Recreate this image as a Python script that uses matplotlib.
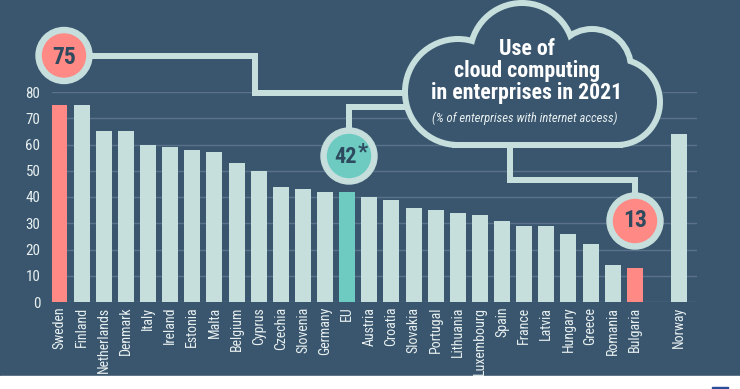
import matplotlib.pyplot as plt
from matplotlib import font_manager as fm
from matplotlib.patches import Circle, Rectangle

# Dados
countries = ['Sweden', 'Finland', 'Netherlands', 'Denmark', 'Italy', 'Ireland', 'Estonia',
             'Malta', 'Belgium', 'Cyprus', 'Czechia', 'Slovenia', 'Germany', 'EU', 'Austria',
             'Croatia', 'Slovakia', 'Portugal', 'Lithuania', 'Luxembourg', 'Spain', 'France',
             'Latvia', 'Hungary', 'Greece', 'Romania', 'Bulgaria', 'Norway']
values = [75, 75, 65, 65, 60, 59, 58, 57, 53, 50, 44, 43, 42, 42, 40, 39, 36, 35, 34, 33,
          31, 29, 29, 26, 22, 14, 13, 64]
yticks = [0, 10, 20, 30, 40, 50, 60, 70, 80]

BG = '#3A566F'
LIGHT = '#C6DFDD'
RED = '#FF8984'
TEAL = '#6DCBC2'
DARK = '#2E4A5E'
TXT = '#E8F0F0'
GRID = '#5A7189'

# procurar uma fonte estreita (condensed / narrow), senao Roboto
cands = [f for f in fm.fontManager.ttflist
         if str(f.stretch) in ('condensed', 'semi-condensed', 'extra-condensed')
         or 'Condensed' in f.name or 'Narrow' in f.name]
narrow = None
for pref in ('Roboto', 'Liberation', 'Noto', 'Open', 'DejaVu', ''):
    for f in cands:
        if f.name.startswith(pref):
            narrow = f.name
            break
    if narrow:
        break
if narrow:
    plt.rcParams['font.stretch'] = 'condensed'
    FONT = [narrow, 'DejaVu Sans']
else:
    FONT = ['Roboto', 'DejaVu Sans']
plt.rcParams['font.family'] = FONT

W, H = 740, 389
fig = plt.figure(figsize=(W / 100, H / 100), dpi=100, facecolor=BG)
renderer = fig.canvas.get_renderer()


def fit(s, target, **kw):
    # tamanho da fonte para que o texto tenha a largura alvo em pixels
    t = fig.text(0, 0, s, fontsize=10, **kw)
    w = t.get_window_extent(renderer).width
    t.remove()
    return 10 * target / w


tick_fs = fit('Netherlands', 66)
title_fs = fit('in enterprises in 2021', 192, fontweight='bold')
sub_fs = fit('(% of enterprises with internet access)', 186, style='italic')
num_fs = fit('75', 24, fontweight='bold')

# eixo principal (coordenadas em pixels)
left, right, top, bottom = 51.5, 697, 92, 302
ax = fig.add_axes([left / W, 1 - bottom / H, (right - left) / W, (bottom - top) / H])
ax.set_facecolor(BG)

# posicoes: Norway separado por um espaco
pos = list(range(len(countries) - 1)) + [len(countries)]
colors = []
for c in countries:
    if c in ('Sweden', 'Bulgaria'):
        colors.append(RED)
    elif c == 'EU':
        colors.append(TEAL)
    else:
        colors.append(LIGHT)

ax.bar(pos, values, width=0.723, color=colors, zorder=3)
ax.set_xlim(-0.3615, 28.81)
ax.set_ylim(0, 80)
ax.set_yticks(yticks)
ax.set_yticklabels([str(t) for t in yticks])
ax.set_xticks(pos)
ax.set_xticklabels(countries, rotation=90)
ax.tick_params(axis='y', length=0, pad=8, labelsize=tick_fs * 1.08, labelcolor=TXT)
ax.tick_params(axis='x', length=0, pad=3.5, labelsize=tick_fs, labelcolor=TXT)
ax.grid(axis='y', color=GRID, linewidth=1, zorder=0)
for s in ax.spines.values():
    s.set_visible(False)

# camada de decoracao em pixels
ov = fig.add_axes([0, 0, 1, 1])
ov.set_xlim(0, W)
ov.set_ylim(H, 0)
ov.axis('off')
ov.patch.set_alpha(0)

# faixa branca no rodape
ov.add_patch(Rectangle((0, 376), W, 13, color='white', zorder=1))
ov.add_patch(Rectangle((712, 386.5), 16, 3, color='#2B4C9B', zorder=2))

lw = 6 * 0.72
kw = dict(color=LIGHT, lw=lw, solid_capstyle='projecting', solid_joinstyle='miter', zorder=2)
# ligacoes
ov.plot([64, 255, 255, 430], [55.5, 55.5, 92.5, 92.5], **kw)
ov.plot([348.5, 348.5, 430], [156, 107, 107], **kw)
ov.plot([510, 510, 635, 635], [130, 180, 180, 221], **kw)


# nuvem
def cloud_parts():
    return [Circle((458, 92), 50), Circle((522, 55), 49), Circle((592, 68), 36),
            Circle((617, 102), 40), Rectangle((458, 55), 159, 86.5)]


for p in cloud_parts():
    p.set(facecolor=LIGHT, edgecolor=LIGHT, linewidth=12 * 0.72, zorder=3)
    ov.add_patch(p)
for p in cloud_parts():
    p.set(facecolor=BG, edgecolor='none', zorder=4)
    ov.add_patch(p)

tk = dict(ha='center', va='baseline', fontsize=title_fs, fontweight='bold',
          color='white', zorder=5)
ov.text(527, 55, 'Use of', **tk)
ov.text(527, 77, 'cloud computing', **tk)
ov.text(527, 98.5, 'in enterprises in 2021', **tk)
ov.text(525, 118, '(% of enterprises with internet access)', ha='center', va='center',
        fontsize=sub_fs, style='italic', color=TXT, zorder=5)

# circulos de destaque
i_se = countries.index('Sweden')
i_eu = countries.index('EU')
i_bg = countries.index('Bulgaria')
for (cx, cy), col in [((64, 55.5), RED), ((349, 156), TEAL), ((635, 221), RED)]:
    ov.add_patch(Circle((cx, cy), 28, color=LIGHT, zorder=6))
    ov.add_patch(Circle((cx, cy), 21.5, color=col, zorder=7))

bold = dict(ha='center', va='center', fontweight='bold', color=DARK, zorder=8)
ov.text(64.5, 57, str(values[i_se]), fontsize=num_fs, **bold)
ov.text(345.5, 157, str(values[i_eu]), fontsize=num_fs * 0.95, **bold)
ov.text(362.5, 152, '*', fontsize=num_fs * 0.95, **bold)
ov.text(635, 220, str(values[i_bg]), fontsize=num_fs, **bold)

plt.savefig('out.png', dpi=100, facecolor=BG)
